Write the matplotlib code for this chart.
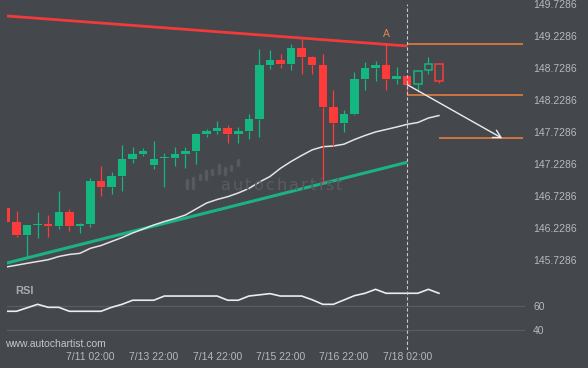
import matplotlib
matplotlib.use('Agg')
import matplotlib.pyplot as plt

# ---------------- data ----------------
opens = [146.537, 146.322, 146.124, 146.270, 146.287, 146.265, 146.479, 146.265, 146.296, 146.963,
         146.874, 147.046, 147.307, 147.390, 147.213, 147.318, 147.327, 147.385, 147.436, 147.702,
         147.749, 147.791, 147.693, 147.749, 147.932, 148.780, 148.854, 148.796, 149.036, 148.896,
         148.771, 148.115, 147.865, 148.015, 148.561, 148.733, 148.771, 148.561, 148.604, 148.474,
         148.693, 148.791]
highs = [146.550, 146.494, 146.280, 146.474, 146.427, 146.807, 146.521, 146.311, 147.005, 147.193,
         147.104, 147.525, 147.490, 147.474, 147.588, 147.396, 147.490, 147.490, 147.708, 147.775,
         147.905, 147.838, 147.802, 148.005, 149.025, 149.010, 148.943, 149.099, 149.177, 148.921,
         148.947, 148.385, 148.072, 148.671, 148.818, 148.833, 149.099, 148.749, 148.604, 148.682,
         148.900, 148.791]
lows = [146.320, 146.083, 145.775, 146.068, 146.093, 146.208, 146.177, 146.146, 146.249, 146.724,
        146.760, 146.802, 147.249, 147.349, 147.146, 146.865, 147.202, 147.161, 147.224, 147.655,
        147.693, 147.561, 147.552, 147.615, 147.655, 148.718, 148.724, 148.702, 148.630, 148.630,
        146.936, 147.510, 147.733, 147.990, 148.385, 148.525, 148.385, 148.474, 148.302, 148.350,
        148.630, 148.490]
closes = [146.327, 146.124, 146.271, 146.280, 146.260, 146.479, 146.265, 146.291, 146.963, 146.874,
          147.041, 147.307, 147.385, 147.432, 147.302, 147.326, 147.385, 147.436, 147.697, 147.744,
          147.796, 147.693, 147.744, 147.932, 148.775, 148.854, 148.796, 149.041, 148.905, 148.780,
          148.124, 147.865, 148.005, 148.552, 148.724, 148.771, 148.561, 148.604, 148.468, 148.682,
          148.791, 148.530]
ma_values = [145.619, 145.647, 145.677, 145.705, 145.733, 145.783, 145.815, 145.833, 145.911, 145.955,
             146.018, 146.080, 146.151, 146.213, 146.276, 146.330, 146.377, 146.432, 146.526, 146.619,
             146.674, 146.718, 146.776, 146.846, 146.947, 147.033, 147.162, 147.268, 147.362, 147.450,
             147.499, 147.510, 147.538, 147.611, 147.674, 147.730, 147.768, 147.807, 147.849, 147.877,
             147.947, 147.986]
rsi_values = [55.6, 55.6, 58.5, 61.4, 58.9, 58.9, 55.6, 55.6, 55.6, 55.6,
              58.9, 61.4, 64.8, 64.8, 64.8, 68.3, 68.3, 68.3, 68.3, 68.3,
              68.3, 64.8, 64.8, 68.3, 69.3, 70.3, 68.3, 68.3, 68.3, 65.2,
              61.4, 61.4, 65.0, 68.6, 70.6, 73.9, 70.6, 70.6, 70.6, 70.6,
              73.9, 70.6]
x_labels = ['7/11 02:00', '7/13 22:00', '7/14 22:00', '7/15 22:00', '7/16 22:00', '7/18 02:00']
x_label_index = [8, 14, 20, 26, 32, 38]
price_ticks = [149.7286, 149.2286, 148.7286, 148.2286, 147.7286, 147.2286, 146.7286, 146.2286, 145.7286]
rsi_ticks = [60, 40]
resistance_x = [0, 38]
resistance_y = [149.543, 149.073]
support_x = [0, 38]
support_y = [145.678, 147.256]
level_values = [149.099, 148.302, 147.630]
level_start = [38, 38, 41]
forecast_x = [38, 47]
forecast_y = [148.468, 147.630]
signal_index = 38
pattern_label = 'A'
pattern_index = 36
hollow_from = 39

# ---------------- style ----------------
BG = '#44474c'
GREEN = '#13b77f'
RED = '#fd3b3b'
ORANGE = '#f5803e'
TXT = '#b5b8bc'
W, H = 588, 368

def px_rect(x0, y0, x1, y1):
    return [x0 / W, 1 - y1 / H, (x1 - x0) / W, (y1 - y0) / H]

fig = plt.figure(figsize=(W / 100, H / 100), dpi=100, facecolor=BG)
ax = fig.add_axes(px_rect(7, 4, 525, 278))
rax = fig.add_axes(px_rect(7, 278, 525, 350))
for a in (ax, rax):
    a.set_facecolor(BG)
    for s in a.spines.values():
        s.set_visible(False)

n = len(opens)
xs = list(range(n))
ax.set_xlim(0.1, 49.15)
rax.set_xlim(0.1, 49.15)
ax.set_ylim(145.4474, 149.7290)
rax.set_ylim(23.33, 83.33)

# watermark
wm_font = 11.5
widths = {'a': .613, 'u': .634, 't': .392, 'o': .612, 'c': .55, 'h': .634, 'r': .411, 'i': .278, 's': .521}
word = 'autochartist'
em = wm_font * 100 / 72
track = (121 - sum(widths[c] for c in word) * em) / (len(word) - 1)
xpos = 220.7
for c in word:
    fig.text(xpos / W, 1 - 190 / H, c, fontsize=wm_font, color='#595c61',
             family='DejaVu Sans', va='baseline', ha='left', zorder=0.5)
    xpos += widths[c] * em + track
logo_bars = [(187.3, 178.3, 189.3), (193.3, 176.7, 189.3), (200, 173.3, 180.7), (206, 170, 180),
             (212.3, 168.3, 175), (218.7, 164, 174), (225, 166.7, 175), (231, 165, 171.7), (237.7, 158.3, 166)]
for bx, by0, by1 in logo_bars:
    fig.add_artist(plt.Line2D([bx / W, bx / W], [1 - (by0 + 1.3) / H, 1 - (by1 - 1.3) / H],
                              color='#575a5f', lw=2.5, solid_capstyle='round', zorder=0.5))

# trend lines and MA
ax.plot(resistance_x, resistance_y, color='#f03b3b', lw=2.0, zorder=2, solid_capstyle='butt')
ax.plot(support_x, support_y, color='#1bb383', lw=2.2, zorder=2, solid_capstyle='butt')
ax.plot(xs, ma_values, color='#e4e4e4', lw=1.1, zorder=2)

# candles
for i in xs:
    o, h, l, c = opens[i], highs[i], lows[i], closes[i]
    col = GREEN if c >= o else RED
    top, bot = max(o, c), min(o, c)
    height = max(top - bot, 0.02)
    if h > top:
        ax.vlines(i, top, h, color=col, lw=0.9, zorder=3)
    if l < bot:
        ax.vlines(i, l, bot, color=col, lw=0.9, zorder=3)
    if i >= hollow_from:
        ax.bar(i, height, bottom=bot, width=0.72, facecolor=BG, edgecolor=col, lw=1.1, zorder=3)
    else:
        ax.bar(i, height, bottom=bot, width=0.8, color=col, lw=0, zorder=3)

# levels, forecast arrow
for v, s in zip(level_values, level_start):
    ax.hlines(v, s, 48.96, color=ORANGE, lw=1.1, zorder=4)
ax.annotate('', xy=(forecast_x[1], forecast_y[1]), xytext=(forecast_x[0], forecast_y[0]),
            arrowprops=dict(arrowstyle='->,head_length=0.55,head_width=0.3', color='#eeeeee', lw=1.0,
                            shrinkA=0, shrinkB=0), zorder=5)
ax.annotate(pattern_label, xy=(pattern_index, highs[pattern_index]), xytext=(0, 3.5),
            textcoords='offset points', ha='center', va='bottom', color='#e2854e', fontsize=7.5,
            family='Liberation Sans', zorder=5)

# signal line
for a in (ax, rax):
    a.axvline(signal_index, color='#c9c9c9', lw=0.8, ls=(0, (3, 2)), zorder=6)

# price axis
ax.yaxis.tick_right()
ax.set_yticks(price_ticks)
ax.set_yticklabels(['%.4f' % t for t in price_ticks])
ax.set_xticks([])
ax.tick_params(axis='y', length=0, pad=5.8, labelsize=7.5, labelcolor=TXT)
for lab in ax.get_yticklabels():
    lab.set_family('Liberation Sans')

# RSI panel
for t in rsi_ticks:
    rax.axhline(t, color='#585b60', lw=1.0, zorder=1)
rax.plot(xs, rsi_values, color='#ececec', lw=1.2, zorder=3)
rax.yaxis.tick_right()
rax.set_yticks(rsi_ticks)
rax.set_yticklabels([str(t) for t in rsi_ticks])
rax.set_xticks(x_label_index)
rax.set_xticklabels(x_labels)
rax.tick_params(axis='both', length=0, labelsize=7.5, labelcolor=TXT)
rax.tick_params(axis='y', pad=5.8)
rax.tick_params(axis='x', pad=1.2)
for lab in rax.get_yticklabels() + rax.get_xticklabels():
    lab.set_family('Liberation Sans')
rax.text(0.0155, 1 - (291 - 278) / 72, 'RSI', transform=rax.transAxes, ha='left', va='center',
         fontsize=8, fontweight='bold', color='#a7aaaf', family='Liberation Sans')

fig.text(5.5 / W, 1 - 344.3 / H, 'www.autochartist.com', ha='left', va='center', fontsize=7.5,
         color='#c4c6c9', family='Liberation Sans')

fig.savefig('out.png', dpi=100, facecolor=BG)
